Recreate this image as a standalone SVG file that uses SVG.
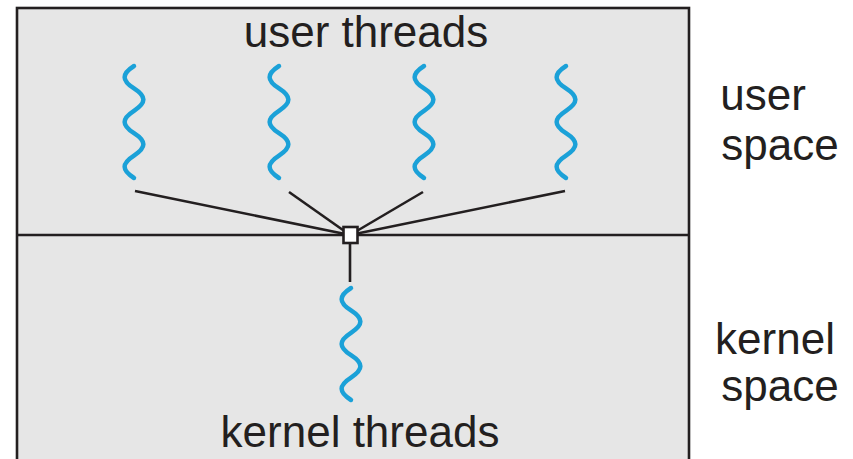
<svg xmlns="http://www.w3.org/2000/svg" width="853" height="459" viewBox="0 0 853 459">
<style>
.frame{fill:#e6e6e6;stroke:#231f20;stroke-width:2.6}
.ln{stroke:#231f20;stroke-width:2.6;fill:none}
.wave{fill:none;stroke:#1ba1d8;stroke-width:4.5;stroke-linecap:round}
.lbl{font-family:"Liberation Sans",Arial,sans-serif;font-size:44px;fill:#231f20}
</style>
<defs>
<path id="wave" class="wave" d="M0,0 c-12.5,8 -12.5,14.3 0,22.4 c12.5,8 12.5,14.3 0,22.4 c-12.5,8 -12.5,14.3 0,22.4 c12.5,8 12.5,14.3 0,22.4 c-12.5,8 -12.5,14.3 0,22.4"/>
</defs>
<rect class="frame" x="17" y="8" width="672" height="480"/>
<line class="ln" x1="17" y1="235" x2="689" y2="235"/>
<text class="lbl" x="366" y="47" text-anchor="middle">user threads</text>
<text class="lbl" x="360" y="447" text-anchor="middle">kernel threads</text>
<text class="lbl" x="763" y="110" text-anchor="middle">user</text>
<text class="lbl" x="780" y="160" text-anchor="middle">space</text>
<text class="lbl" x="775" y="354" text-anchor="middle">kernel</text>
<text class="lbl" x="780" y="401" text-anchor="middle">space</text>
<g id="connectors">
<line class="ln" x1="135" y1="191" x2="350" y2="235"/>
<line class="ln" x1="289" y1="192" x2="350" y2="235"/>
<line class="ln" x1="423" y1="192" x2="350" y2="235"/>
<line class="ln" x1="565" y1="191" x2="350" y2="235"/>
<line class="ln" x1="350" y1="244" x2="350" y2="282"/>
</g>
<g id="ut1"><use href="#wave" x="134" y="66"/></g>
<g id="ut2"><use href="#wave" x="279" y="66"/></g>
<g id="ut3"><use href="#wave" x="424" y="66"/></g>
<g id="ut4"><use href="#wave" x="566" y="66"/></g>
<g id="kt1"><use href="#wave" x="351" y="288"/></g>
<g id="mux"><rect x="343.5" y="227" width="14" height="16" fill="#ffffff" stroke="#231f20" stroke-width="2.6"/></g>
</svg>
